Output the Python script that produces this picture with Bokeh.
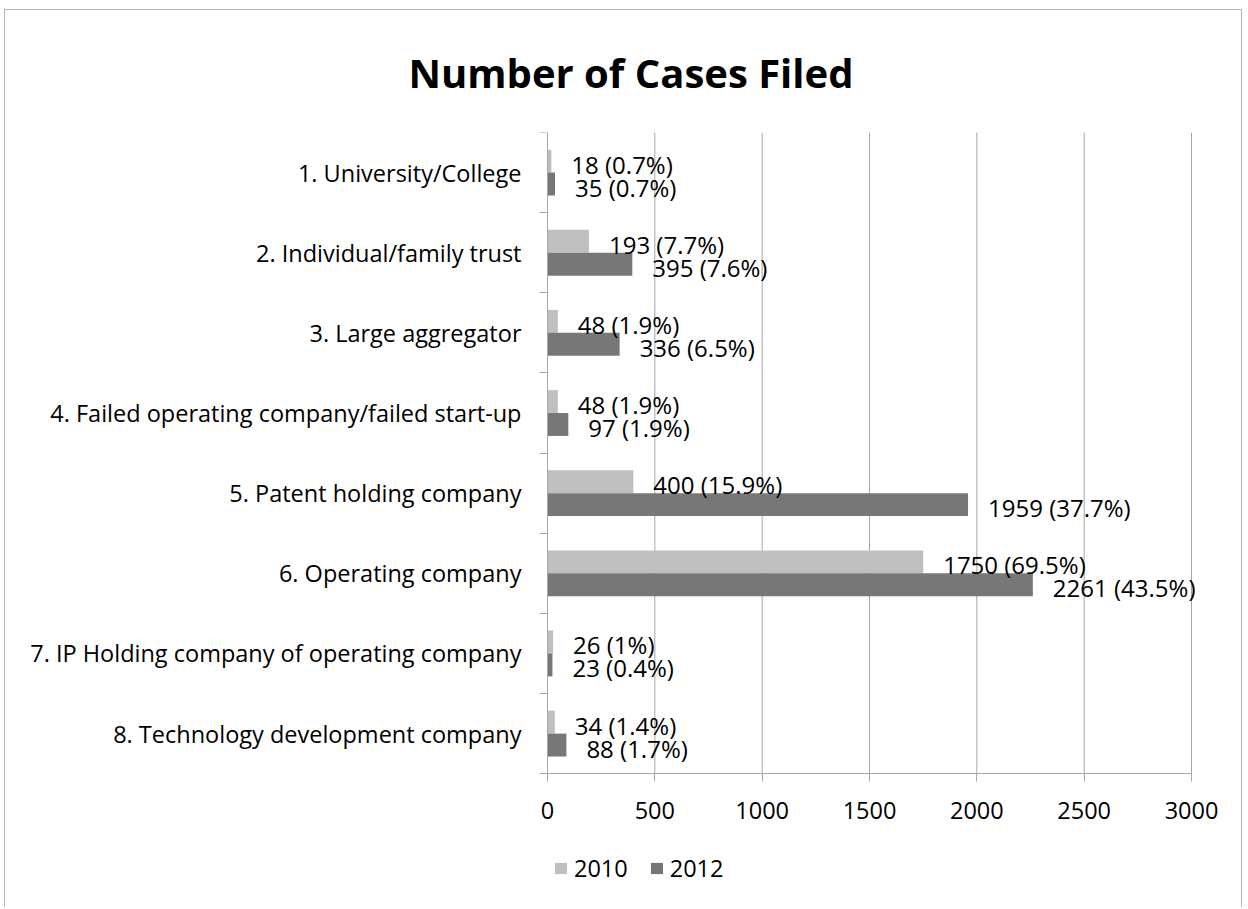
from bokeh.plotting import figure
from bokeh.models import (ColumnDataSource, FixedTicker, Legend, LegendItem,
                          Title, Range1d)
from bokeh.core.properties import value
from bokeh.embed import file_html
from bokeh.resources import INLINE

title_text = "Number of Cases Filed"
categories = [
    "1. University/College",
    "2. Individual/family trust",
    "3. Large aggregator",
    "4. Failed operating company/failed start-up",
    "5. Patent holding company",
    "6. Operating company",
    "7. IP Holding company of operating company",
    "8. Technology development company",
]
series_names = ["2010", "2012"]
cases_2010 = [18, 193, 48, 48, 400, 1750, 26, 34]
pct_2010 = ["0.7", "7.7", "1.9", "1.9", "15.9", "69.5", "1", "1.4"]
cases_2012 = [35, 395, 336, 97, 1959, 2261, 23, 88]
pct_2012 = ["0.7", "7.6", "6.5", "1.9", "37.7", "43.5", "0.4", "1.7"]
x_ticks = [0, 500, 1000, 1500, 2000, 2500, 3000]
x_max = 3000

FONT = "Open Sans"
LIGHT = "#BFBFBF"
DARK = "#777777"
GRID = "#A6A6A6"
FS = "23.5px"

n = len(categories)
centers = [n - i - 0.5 for i in range(n)]
boundaries = list(range(n + 1))
half = 0.143
bar_h = 0.286

# pixel layout of the canvas (1238 wide): labels area, plot area, right margin
px_left, px_plot, px_right = 542, 644, 52
px_per_unit = px_plot / x_max
px_per_cat = 80.25
below_px = 135

src10 = ColumnDataSource(dict(
    y=[c + half for c in centers], x=cases_2010,
    label=[f"{v} ({p}%)" for v, p in zip(cases_2010, pct_2010)]))
src12 = ColumnDataSource(dict(
    y=[c - half for c in centers], x=cases_2012,
    label=[f"{v} ({p}%)" for v, p in zip(cases_2012, pct_2012)]))

p = figure(width=px_left + px_plot + px_right, height=898,
           output_backend="svg", toolbar_location=None,
           x_range=Range1d(-px_left / px_per_unit, x_max + px_right / px_per_unit),
           y_range=Range1d(-below_px / px_per_cat, n),
           min_border_left=0, min_border_right=0,
           min_border_top=121, min_border_bottom=0)
p.outline_line_color = None
p.background_fill_color = "white"
p.border_fill_color = "white"
p.styles = {"border-left": "1px solid #B4B4B4", "border-top": "1px solid #B4B4B4",
            "border-right": "1px solid #B4B4B4",
            "margin-left": "4px", "margin-top": "9px"}

# vertical gridlines, limited to the plotting region
grid = p.segment(x0=x_ticks, y0=[0] * len(x_ticks), x1=x_ticks,
                 y1=[n] * len(x_ticks), line_color=GRID, line_width=1)
grid.level = "underlay"

r10 = p.hbar(y="y", right="x", left=0, height=bar_h, source=src10,
             fill_color=LIGHT, line_color=None)
r12 = p.hbar(y="y", right="x", left=0, height=bar_h, source=src12,
             fill_color=DARK, line_color=None)

for src in (src10, src12):
    p.text(x="x", y="y", text="label", source=src, x_offset=20, y_offset=3,
           text_baseline="middle", text_align="left",
           text_font=value(FONT), text_font_size="24px", text_color="black")

# x axis (placed at y = 0)
p.xaxis.fixed_location = 0
p.xaxis.bounds = (0, x_max)
p.xaxis.ticker = FixedTicker(ticks=x_ticks)
p.xaxis.major_tick_out = 8
p.xaxis.major_tick_in = 0
p.xaxis.minor_tick_line_color = None
p.xaxis.axis_line_color = GRID
p.xaxis.major_tick_line_color = GRID
p.xaxis.major_label_text_font = FONT
p.xaxis.major_label_text_font_size = FS
p.xaxis.major_label_text_color = "black"
p.xaxis.major_label_standoff = 20

# y axis (placed at x = 0)
p.yaxis.fixed_location = 0
p.yaxis.bounds = (0, n)
p.yaxis.ticker = FixedTicker(ticks=centers, minor_ticks=boundaries)
p.yaxis.major_label_overrides = {c: name for c, name in zip(centers, categories)}
p.yaxis.major_tick_out = 0
p.yaxis.major_tick_in = 0
p.yaxis.major_tick_line_color = None
p.yaxis.minor_tick_out = 8
p.yaxis.minor_tick_in = 0
p.yaxis.minor_tick_line_color = GRID
p.yaxis.axis_line_color = GRID
p.yaxis.major_label_text_font = FONT
p.yaxis.major_label_text_font_size = FS
p.yaxis.major_label_text_color = "black"
p.yaxis.major_label_standoff = 18

p.xgrid.grid_line_color = None
p.ygrid.grid_line_color = None

# title
p.add_layout(Title(text=title_text, align="left", offset=403, standoff=65,
                   text_font=FONT, text_font_size="40px",
                   text_font_style="bold", text_color="black"), "above")

legend = Legend(items=[LegendItem(label=series_names[0], renderers=[r10]),
                       LegendItem(label=series_names[1], renderers=[r12])],
                location=(px_left + 6, 24), orientation="horizontal",
                border_line_color=None, background_fill_alpha=0,
                label_text_font=FONT, label_text_font_size=FS,
                label_text_color="black", glyph_width=15, glyph_height=14,
                label_standoff=6, spacing=21, padding=0, margin=0)
p.add_layout(legend)

open("out.html", "w").write(file_html(p, INLINE))
